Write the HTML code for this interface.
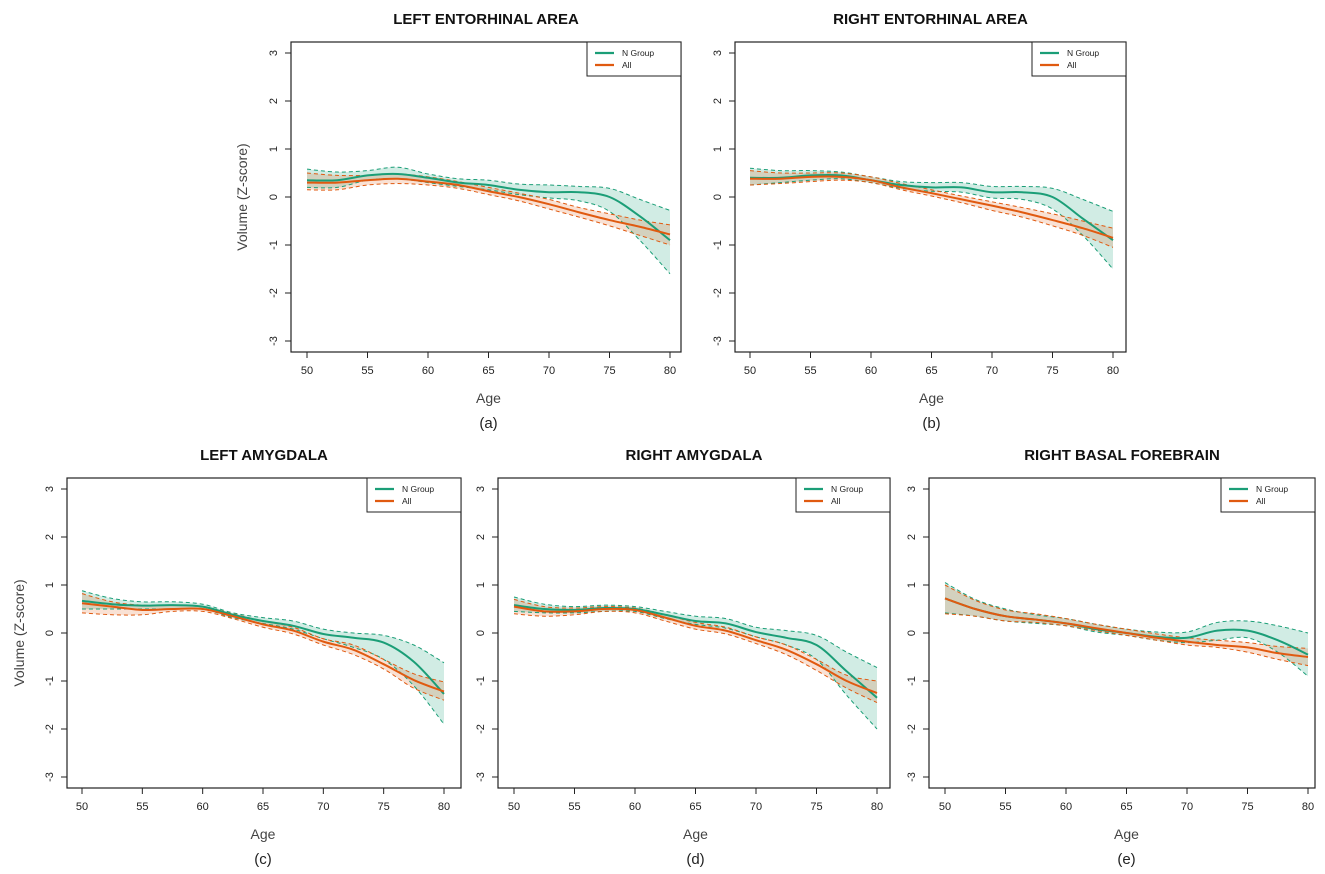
<!DOCTYPE html>
<html><head><meta charset="utf-8"><style>
body{margin:0;background:#fff;width:1325px;height:874px;overflow:hidden}
svg{display:block}
text{font-family:"Liberation Sans","DejaVu Sans",sans-serif}
</style></head><body>
<svg id="fig" width="1325" height="874" xmlns="http://www.w3.org/2000/svg"></svg>
<script>
const ages=[50,52.5,55,57.5,60,62.5,65,67.5,70,72.5,75,77.5,80];
const xTicks=[50,55,60,65,70,75,80];
const yTicks=[-3,-2,-1,0,1,2,3];
const titles=["LEFT ENTORHINAL AREA","RIGHT ENTORHINAL AREA","LEFT AMYGDALA","RIGHT AMYGDALA","RIGHT BASAL FOREBRAIN"];
const letters=["(a)","(b)","(c)","(d)","(e)"];
const nMean=[
[0.35,0.35,0.45,0.48,0.4,0.3,0.25,0.15,0.1,0.1,0.0,-0.4,-0.9],
[0.4,0.4,0.45,0.45,0.35,0.25,0.2,0.2,0.1,0.1,0.0,-0.45,-0.9],
[0.67,0.6,0.57,0.58,0.55,0.38,0.25,0.15,-0.02,-0.1,-0.2,-0.6,-1.27],
[0.58,0.5,0.48,0.52,0.5,0.38,0.25,0.2,0.02,-0.1,-0.25,-0.8,-1.35],
[0.72,0.5,0.35,0.28,0.2,0.08,0.0,-0.08,-0.1,0.05,0.05,-0.15,-0.45]];
const nLo=[
[0.2,0.2,0.35,0.38,0.3,0.22,0.15,0.05,-0.02,-0.08,-0.3,-0.9,-1.6],
[0.25,0.3,0.35,0.38,0.3,0.18,0.12,0.1,-0.02,-0.05,-0.25,-0.8,-1.5],
[0.5,0.5,0.5,0.5,0.5,0.32,0.2,0.08,-0.12,-0.3,-0.55,-1.1,-1.9],
[0.45,0.42,0.42,0.45,0.45,0.3,0.18,0.1,-0.08,-0.25,-0.55,-1.3,-2.0],
[0.42,0.35,0.25,0.2,0.15,0.02,-0.05,-0.15,-0.2,-0.15,-0.1,-0.4,-0.9]];
const nHi=[
[0.58,0.52,0.55,0.62,0.48,0.38,0.35,0.27,0.25,0.22,0.18,-0.05,-0.28],
[0.6,0.55,0.55,0.52,0.42,0.32,0.3,0.3,0.22,0.22,0.18,-0.05,-0.3],
[0.88,0.72,0.65,0.65,0.6,0.42,0.32,0.25,0.08,0.0,-0.05,-0.25,-0.62],
[0.75,0.6,0.55,0.58,0.55,0.45,0.35,0.3,0.12,0.05,-0.05,-0.4,-0.72],
[1.05,0.7,0.5,0.38,0.3,0.18,0.08,0.02,0.02,0.22,0.25,0.15,0.0]];
const aMean=[
[0.3,0.3,0.35,0.38,0.32,0.25,0.12,0.0,-0.15,-0.32,-0.48,-0.62,-0.78],
[0.38,0.38,0.42,0.42,0.35,0.2,0.08,-0.05,-0.18,-0.32,-0.48,-0.65,-0.85],
[0.62,0.55,0.48,0.5,0.5,0.35,0.18,0.05,-0.18,-0.35,-0.65,-0.98,-1.22],
[0.55,0.45,0.45,0.5,0.48,0.32,0.15,0.05,-0.15,-0.35,-0.65,-1.0,-1.25],
[0.72,0.5,0.35,0.28,0.2,0.1,0.0,-0.1,-0.18,-0.25,-0.3,-0.42,-0.5]];
const aLo=[
[0.15,0.15,0.25,0.28,0.25,0.18,0.05,-0.08,-0.25,-0.42,-0.6,-0.8,-1.0],
[0.25,0.28,0.32,0.35,0.3,0.15,0.02,-0.12,-0.28,-0.42,-0.6,-0.8,-1.05],
[0.42,0.38,0.38,0.45,0.45,0.3,0.12,-0.02,-0.25,-0.45,-0.75,-1.15,-1.4],
[0.4,0.35,0.38,0.45,0.42,0.25,0.08,-0.02,-0.22,-0.45,-0.78,-1.15,-1.45],
[0.4,0.35,0.25,0.22,0.15,0.05,-0.05,-0.15,-0.25,-0.3,-0.4,-0.55,-0.68]];
const aHi=[
[0.5,0.45,0.45,0.48,0.42,0.32,0.2,0.08,-0.05,-0.22,-0.35,-0.48,-0.58],
[0.55,0.5,0.5,0.5,0.42,0.28,0.15,0.02,-0.1,-0.22,-0.35,-0.5,-0.65],
[0.82,0.65,0.58,0.58,0.55,0.4,0.25,0.12,-0.12,-0.25,-0.55,-0.85,-1.02],
[0.7,0.55,0.52,0.55,0.52,0.38,0.22,0.12,-0.08,-0.25,-0.55,-0.88,-1.0],
[1.0,0.68,0.48,0.4,0.3,0.18,0.08,-0.02,-0.1,-0.15,-0.2,-0.28,-0.32]];

const panels=[
 {bx:291,by:42,bw:390,bh:310,x0:307,x1:670,yl:true,ylx:247},
 {bx:735,by:42,bw:391,bh:310,x0:750,x1:1113,yl:false},
 {bx:67,by:478,bw:394,bh:310,x0:82,x1:444,yl:true,ylx:24},
 {bx:498,by:478,bw:392,bh:310,x0:514,x1:877,yl:false},
 {bx:929,by:478,bw:386,bh:310,x0:945,x1:1308,yl:false}];
const GREEN="#1b9e77",ORANGE="#e05a10";
const svg=document.getElementById('fig');
const NS="http://www.w3.org/2000/svg";
function mk(tag,attrs,parent){const e=document.createElementNS(NS,tag);for(const k in attrs)e.setAttribute(k,attrs[k]);(parent||svg).appendChild(e);return e;}
function smooth(pts){let d="M"+pts[0][0]+","+pts[0][1];for(let i=0;i<pts.length-1;i++){const p0=pts[Math.max(0,i-1)],p1=pts[i],p2=pts[i+1],p3=pts[Math.min(pts.length-1,i+2)];
 d+=" C"+(p1[0]+(p2[0]-p0[0])/6)+","+(p1[1]+(p2[1]-p0[1])/6)+" "+(p2[0]-(p3[0]-p1[0])/6)+","+(p2[1]-(p3[1]-p1[1])/6)+" "+p2[0]+","+p2[1];}return d;}
function bandPath(lo,hi,X,Y){const up=ages.map((a,i)=>[X(a),Y(hi[i])]);const dn=ages.map((a,i)=>[X(a),Y(lo[i])]).reverse();
 const d2=smooth(dn).replace(/^M/,"L");return smooth(up)+" "+d2+" Z";}

panels.forEach((p,k)=>{
 const g=mk('g',{});
 
 
 const y3=p.by+11, ym3=p.by+p.bh-11;
 const X=a=>p.x0+(a-50)/30*(p.x1-p.x0);
 const Y=v=>y3+(3-v)/6*(ym3-y3);
 const t=mk('text',{x:p.bx+p.bw/2,y:p.by-18,'text-anchor':'middle','font-size':15,'font-weight':'bold',fill:'#111'},g);t.textContent=titles[k];
 
 // bands
 const bn=mk('path',{d:bandPath(nLo[k],nHi[k],X,Y),fill:GREEN,'fill-opacity':0.2,stroke:'none'},g);
 
 const ba=mk('path',{d:bandPath(aLo[k],aHi[k],X,Y),fill:ORANGE,'fill-opacity':0.18,stroke:'none'},g);
 
 [[nLo[k],GREEN,'n-group-lower-bound'],[nHi[k],GREEN,'n-group-upper-bound'],[aLo[k],ORANGE,'all-lower-bound'],[aHi[k],ORANGE,'all-upper-bound']].forEach(([arr,c,nm])=>{
  const l=mk('path',{d:smooth(ages.map((a,i)=>[X(a),Y(arr[i])])),fill:'none',stroke:c,'stroke-width':1,'stroke-dasharray':'4,3'},g);
  });
 const ln=mk('path',{d:smooth(ages.map((a,i)=>[X(a),Y(nMean[k][i])])),fill:'none',stroke:GREEN,'stroke-width':2},g);
 
 const la=mk('path',{d:smooth(ages.map((a,i)=>[X(a),Y(aMean[k][i])])),fill:'none',stroke:ORANGE,'stroke-width':2},g);
 
 // box
 const bx=mk('rect',{x:p.bx,y:p.by,width:p.bw,height:p.bh,fill:'none',stroke:'#222','stroke-width':1.2},g);
 
 // x ticks
 xTicks.forEach(v=>{mk('line',{x1:X(v),x2:X(v),y1:p.by+p.bh,y2:p.by+p.bh+6,stroke:'#222'},g);
  const tl=mk('text',{x:X(v),y:p.by+p.bh+22,'text-anchor':'middle','font-size':11,fill:'#222'},g);tl.textContent=v;
  });
 yTicks.forEach(v=>{mk('line',{x1:p.bx-6,x2:p.bx,y1:Y(v),y2:Y(v),stroke:'#222'},g);
  const tx=p.bx-14;
  const tl=mk('text',{x:tx,y:Y(v),'text-anchor':'middle','font-size':11,fill:'#222',transform:`rotate(-90 ${tx} ${Y(v)})`},g);tl.textContent=v;
  });
 const ax=mk('text',{x:(p.x0+p.x1)/2,y:p.by+p.bh+51,'text-anchor':'middle','font-size':14,fill:'#444'},g);ax.textContent='Age';
 
 const lt=mk('text',{x:(p.x0+p.x1)/2,y:p.by+p.bh+76,'text-anchor':'middle','font-size':15,fill:'#222'},g);lt.textContent=letters[k];
 
 if(p.yl){const cy=p.by+p.bh/2;const yt=mk('text',{x:p.ylx,y:cy,'text-anchor':'middle','font-size':14,fill:'#444',transform:`rotate(-90 ${p.ylx} ${cy})`},g);yt.textContent='Volume (Z-score)';
  }
 // legend
 const lg=mk('g',{},g);
 const lx=p.bx+p.bw-94;
 mk('rect',{x:lx,y:p.by,width:94,height:34,fill:'#fff',stroke:'#222','stroke-width':1},lg);
 mk('line',{x1:lx+8,x2:lx+27,y1:p.by+11,y2:p.by+11,stroke:GREEN,'stroke-width':2.2},lg);
 mk('line',{x1:lx+8,x2:lx+27,y1:p.by+23,y2:p.by+23,stroke:ORANGE,'stroke-width':2.2},lg);
 const e1=mk('text',{x:lx+35,y:p.by+14,'font-size':8.5,fill:'#222'},lg);e1.textContent='N Group';
 
 const e2=mk('text',{x:lx+35,y:p.by+26,'font-size':8.5,fill:'#222'},lg);e2.textContent='All';
 
});
</script>
</body></html>
